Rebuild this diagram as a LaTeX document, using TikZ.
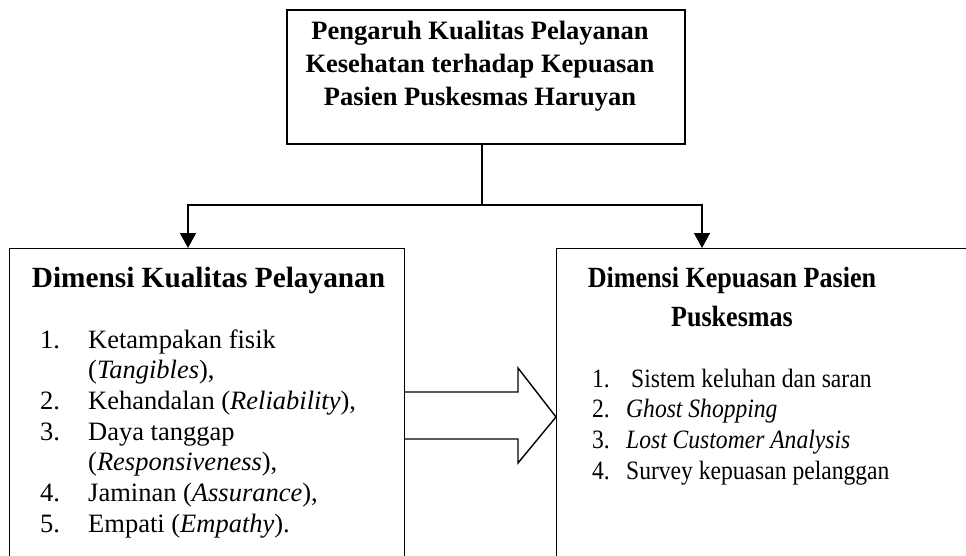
\documentclass[tikz,border=0pt]{standalone}
\usepackage{fontspec}
\setmainfont{Liberation Serif}
\usetikzlibrary{arrows.meta}
\tikzset{
  box/.style={draw, line width=1.4pt, inner sep=0pt},
  conn/.style={line width=1.4pt},
  arr/.style={conn, -{Triangle[width=16pt,length=15pt]}},
  ttl/.style={anchor=base, inner sep=0pt, font=\fontsize{26.5}{33}\selectfont\bfseries},
  hd/.style={anchor=base, inner sep=0pt, font=\fontsize{29.3}{39}\selectfont\bfseries},
  itm/.style={anchor=base west, inner sep=0pt, font=\fontsize{26.5}{31}\selectfont},
  narrow/.style={xscale=0.89, transform shape},
}
\begin{document}
\begin{tikzpicture}[x=1pt,y=-1pt]
\useasboundingbox (0,0) rectangle (966,556);
\clip (0,0) rectangle (966,556);
% boxes
\node[box, minimum width=398pt, minimum height=134pt] (top) at (486,77) {};
\node[box, minimum width=395pt, minimum height=340pt, anchor=north west] (L) at (9,248) {};
\node[box, minimum width=440pt, minimum height=340pt, anchor=north west] (R) at (556,248) {};
% top text
\node[ttl] (t1) at (480,40) {Pengaruh Kualitas Pelayanan};
\node[ttl] (t2) at (480,73) {Kesehatan terhadap Kepuasan};
\node[ttl] (t3) at (480,106) {Pasien Puskesmas Haruyan};
% connectors
\coordinate (j) at (482,205);
\coordinate (jl) at (188,205);
\coordinate (jr) at (702,205);
\draw[conn] (top.south -| j) -- (j);
\draw[arr] (j) -- (jl) -- (L.north -| jl);
\draw[arr] (j) -- (jr) -- (R.north -| jr);
% block arrow
\draw[line width=1.4pt, line join=miter] (404,392) -- (518,392) -- (518,368) -- (556,417) -- (518,463) -- (518,439) -- (404,439);
% left box text
\node[hd] (lh) at (208.5,287) {Dimensi Kualitas Pelayanan};
\node[itm] (n1) at (40,348) {1.};
\node[itm] (l1) at (88,348) {Ketampakan fisik};
\node[itm] (l1b) at (88,378.7) {(\textit{Tangibles}),};
\node[itm] (n2) at (40,409.4) {2.};
\node[itm] (l2) at (88,409.4) {Kehandalan (\textit{Reliability}),};
\node[itm] (n3) at (40,440.1) {3.};
\node[itm] (l3) at (88,440.1) {Daya tanggap};
\node[itm] (l3b) at (88,470.8) {(\textit{Responsiveness}),};
\node[itm] (n4) at (40,501.5) {4.};
\node[itm] (l4) at (88,501.5) {Jaminan (\textit{Assurance}),};
\node[itm] (n5) at (40,532.2) {5.};
\node[itm] (l5) at (88,532.2) {Empati (\textit{Empathy}).};
% right box text
\node[hd, narrow] (rh1) at (732,287) {Dimensi Kepuasan Pasien};
\node[hd, narrow] (rh2) at (732,326) {Puskesmas};
\node[itm, narrow] (m1) at (592,387) {1.};
\node[itm, narrow] (r1) at (631,387) {Sistem keluhan dan saran};
\node[itm, narrow] (m2) at (592,417.7) {2.};
\node[itm, narrow] (r2) at (626,417.7) {\textit{Ghost Shopping}};
\node[itm, narrow] (m3) at (592,448.4) {3.};
\node[itm, narrow] (r3) at (626,448.4) {\textit{Lost Customer Analysis}};
\node[itm, narrow] (m4) at (592,479.1) {4.};
\node[itm, narrow] (r4) at (626,479.1) {Survey kepuasan pelanggan};
\end{tikzpicture}
\end{document}
